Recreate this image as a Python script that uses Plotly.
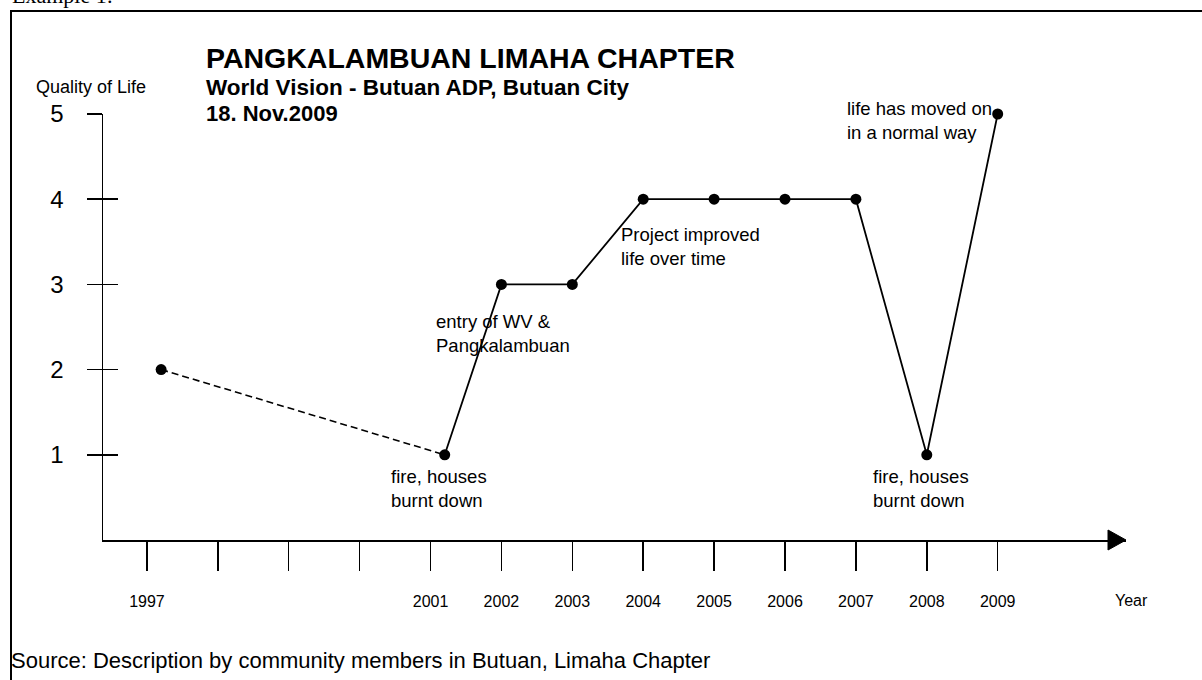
import plotly.graph_objects as go

# ---- data ----
years = [1997.2, 2001.2, 2002, 2003, 2004, 2005, 2006, 2007, 2008, 2009]
quality = [2, 1, 3, 3, 4, 4, 4, 4, 1, 5]
tick_years = list(range(1997, 2010))
tick_text = ["1997", "", "", "", "2001", "2002", "2003", "2004", "2005",
             "2006", "2007", "2008", "2009"]
y_ticks = [1, 2, 3, 4, 5]
event_text = {
    1: "fire, houses<br>burnt down",
    2: "entry of WV &<br>Pangkalambuan",
    4: "Project improved<br>life over time",
    8: "fire, houses<br>burnt down",
    9: "life has moved on<br>in a normal way",
}
title = "PANGKALAMBUAN LIMAHA CHAPTER"
subtitle = "World Vision - Butuan ADP, Butuan City"
date_txt = "18. Nov.2009"
source = "Source: Description by community members in Butuan, Limaha Chapter"

# ---- layout geometry ----
W, H = 1202, 680
ml, mr, mt, mb = 103, 76, 114, 140
pw, ph = W - ml - mr, H - mt - mb
x_range = [1996.38, 2010.81]
y_range = [0, 5]

def px(x):
    return (x - ml) / pw

def py(y):
    return 1 - (y - mt) / ph

FONT = "Liberation Sans, Arial, sans-serif"
BLACK = "#000000"

fig = go.Figure()
fig.add_trace(go.Scatter(x=years[:2], y=quality[:2], mode="lines",
                         line=dict(color=BLACK, width=1.6, dash="7px,4px"),
                         yaxis="y2", hoverinfo="skip", cliponaxis=False))
fig.add_trace(go.Scatter(x=years[1:], y=quality[1:], mode="lines",
                         line=dict(color=BLACK, width=1.8),
                         hoverinfo="skip", cliponaxis=False))
fig.add_trace(go.Scatter(x=years, y=quality, mode="markers",
                         marker=dict(color=BLACK, size=11),
                         hoverinfo="skip", cliponaxis=False))

annotations = []
offsets = {
    1: dict(xanchor="center", yanchor="top", xshift=-6, yshift=-9, align="left"),
    2: dict(xanchor="center", yanchor="top", xshift=2, yshift=-25, align="left"),
    4: dict(xanchor="left", yanchor="top", xshift=-24, yshift=-23, align="left"),
    8: dict(xanchor="center", yanchor="top", xshift=-6, yshift=-9, align="left"),
    9: dict(xanchor="right", yanchor="middle", xshift=-4, yshift=-6, align="left"),
}
for i, txt in event_text.items():
    annotations.append(dict(x=years[i], y=quality[i], xref="x", yref="y",
                            text=txt, showarrow=False,
                            font=dict(family=FONT, size=18.5, color=BLACK),
                            **offsets[i]))

annotations += [
    dict(x=px(204), y=py(58), xref="paper", yref="paper", xanchor="left", yanchor="middle",
         text="<b>" + title + "</b>", showarrow=False,
         font=dict(family=FONT, size=28.5, color=BLACK)),
    dict(x=px(204), y=py(87), xref="paper", yref="paper", xanchor="left", yanchor="middle",
         text="<b>" + subtitle + "</b>", showarrow=False,
         font=dict(family=FONT, size=22.5, color=BLACK)),
    dict(x=px(204), y=py(113), xref="paper", yref="paper", xanchor="left", yanchor="middle",
         text="<b>" + date_txt + "</b>", showarrow=False,
         font=dict(family=FONT, size=22, color=BLACK)),
    dict(x=px(91), y=py(87), xref="paper", yref="paper", xanchor="center", yanchor="middle",
         text="Quality of Life", showarrow=False,
         font=dict(family=FONT, size=18, color=BLACK)),
    dict(x=px(1131), y=py(600), xref="paper", yref="paper", xanchor="center", yanchor="middle",
         text="Year", showarrow=False,
         font=dict(family=FONT, size=16, color=BLACK)),
    dict(x=px(9), y=py(660), xref="paper", yref="paper", xanchor="left", yanchor="middle",
         text=source, showarrow=False,
         font=dict(family=FONT, size=22, color=BLACK)),
    dict(x=px(10), y=py(10), xref="paper", yref="paper", xanchor="left", yanchor="bottom",
         text="Example 1:", showarrow=False,
         font=dict(family="Liberation Serif, Times New Roman, serif", size=22, color=BLACK)),
]

shapes = [
    # outer frame
    dict(type="rect", xref="paper", yref="paper",
         x0=px(11), x1=px(1230), y0=py(11), y1=py(720),
         line=dict(color=BLACK, width=2), fillcolor="rgba(0,0,0,0)", layer="below"),
    # arrow head at the end of the x axis
    dict(type="path", xref="paper", yref="paper",
         path="M {a},{b} L {c},{d} L {a},{e} Z".format(
             a=1 - 18 / pw, b=10 / ph, c=1, d=0, e=-10 / ph),
         line=dict(color=BLACK, width=1), fillcolor=BLACK),
]

axis_common = dict(showgrid=False, zeroline=False, color=BLACK)
fig.update_layout(
    width=W, height=H,
    margin=dict(l=ml, r=mr, t=mt, b=mb, autoexpand=False),
    paper_bgcolor="white", plot_bgcolor="white",
    showlegend=False,
    xaxis=dict(range=x_range, showline=True, linecolor=BLACK, linewidth=2,
               ticks="outside", ticklen=29, tickwidth=1.5, tickcolor=BLACK,
               tickvals=tick_years, ticktext=tick_text,
               tickfont=dict(family=FONT, size=16, color=BLACK),
               ticklabelstandoff=17, **axis_common),
    yaxis=dict(range=y_range, showline=True, linecolor=BLACK, linewidth=1.5,
               ticks="outside", ticklen=15, tickwidth=1.5, tickcolor=BLACK,
               tickvals=y_ticks, ticktext=[str(v) for v in y_ticks],
               tickfont=dict(family=FONT, size=24, color=BLACK),
               ticklabelstandoff=18, **axis_common),
    yaxis2=dict(range=y_range, overlaying="y", side="left", anchor="x",
                showline=False, ticks="inside", ticklen=15, tickwidth=1.5,
                tickcolor=BLACK, tickvals=y_ticks, showticklabels=False,
                **axis_common),
    annotations=annotations,
    shapes=shapes,
)

fig.write_html("out.html",
               config={"displayModeBar": False, "staticPlot": True},
               post_script="document.body.style.margin='0px';"
                           "document.body.style.overflow='hidden';")
